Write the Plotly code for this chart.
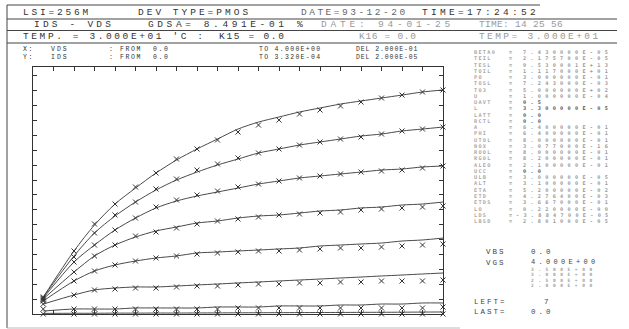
import plotly.graph_objects as go
import numpy as np

W, H = 629, 329

# ---------------- data (IDS in microamps, VDS in volts) ----------------
vds = [0.1, 0.4, 0.6, 0.8, 1.0, 1.2, 1.4, 1.6, 1.8, 2.0,
       2.2, 2.4, 2.6, 2.8, 3.0, 3.2, 3.4, 3.6, 3.8, 4.0]

# simulated curves (lines)
ids_sim_1 = [22.8, 84.7, 119.6, 147.8, 169.3, 189.5, 207.0, 221.8, 235.2, 248.6,
             258.0, 264.8, 271.5, 276.9, 282.2, 286.3, 290.3, 294.3, 298.4, 301.1]
ids_sim_2 = [22.8, 78.0, 108.9, 131.7, 150.5, 166.7, 180.1, 190.8, 200.3, 208.3,
             216.4, 221.8, 227.1, 231.2, 235.2, 239.2, 241.9, 246.0, 248.6, 251.3]
ids_sim_3 = [21.5, 69.9, 92.7, 112.9, 129.0, 142.5, 151.9, 158.6, 164.0, 169.3,
             174.7, 178.8, 182.8, 185.5, 188.2, 190.8, 193.5, 194.9, 197.6, 198.9]
ids_sim_4 = [20.2, 56.4, 78.0, 92.7, 103.5, 111.6, 116.9, 122.3, 125.0, 129.0,
             131.7, 133.1, 135.7, 138.4, 139.8, 142.5, 143.8, 146.5, 147.8, 150.5]
ids_sim_5 = [17.5, 44.4, 57.8, 65.9, 71.2, 75.3, 78.0, 82.0, 83.3, 84.7,
             86.0, 87.4, 88.7, 91.4, 92.7, 94.1, 95.4, 98.1, 99.5, 102.1]
ids_sim_6 = [13.4, 25.5, 32.3, 34.9, 36.3, 36.3, 37.6, 39.0, 40.3, 41.7,
             43.0, 44.4, 45.7, 47.0, 48.4, 49.7, 51.1, 52.4, 53.8, 55.1]
ids_sim_7 = [4.0, 6.7, 6.7, 6.7, 8.1, 8.1, 8.1, 8.1, 9.4, 9.4,
             9.4, 10.8, 10.8, 10.8, 12.1, 12.1, 13.4, 13.4, 14.8, 14.8]
ids_sim_8 = [0.8, 1.0, 1.0, 1.2, 1.2, 1.3, 1.3, 1.4, 1.5, 1.6,
             1.7, 1.8, 1.9, 2.0, 2.1, 2.2, 2.3, 2.4, 2.6, 2.7]

# measured points (x markers)
ids_meas_1 = [22.8, 84.7, 121.0, 147.8, 170.7, 189.5, 208.3, 221.8, 233.9, 244.6,
              254.0, 260.7, 268.8, 274.2, 279.6, 284.9, 290.3, 294.3, 298.4, 301.1]
ids_meas_2 = [21.5, 76.6, 108.9, 133.1, 150.5, 168.0, 181.4, 193.5, 201.6, 209.7,
              216.4, 221.8, 227.1, 231.2, 235.2, 237.9, 241.9, 246.0, 248.6, 251.3]
ids_meas_3 = [20.2, 69.9, 92.7, 112.9, 129.0, 143.8, 153.2, 159.9, 165.3, 170.7,
              174.7, 178.8, 182.8, 185.5, 188.2, 190.8, 192.2, 193.5, 196.2, 198.9]
ids_meas_4 = [18.8, 56.4, 78.0, 92.7, 104.8, 110.2, 115.6, 121.0, 125.0, 127.7,
              130.4, 133.1, 134.4, 135.7, 137.1, 139.8, 141.1, 142.5, 143.8, 145.2]
ids_meas_5 = [17.5, 44.4, 57.8, 65.9, 71.2, 75.3, 78.0, 80.6, 82.0, 83.3,
              84.7, 84.7, 86.0, 87.4, 88.7, 88.7, 90.0, 91.4, 92.7, 94.1]
ids_meas_6 = [13.4, 25.5, 32.3, 33.6, 34.9, 34.9, 36.3, 37.6, 37.6, 39.0,
              40.3, 40.3, 41.7, 41.7, 43.0, 43.0, 44.4, 44.4, 44.4, 45.7]
ids_meas_7 = [6.7, 6.7, 6.7, 6.7, 6.7, 6.7, 6.7, 6.7, 6.7, 8.1,
              8.1, 8.1, 8.1, 8.1, 8.1, 8.1, 8.1, 8.1, 8.1, 9.4]
ids_meas_8 = [0.0, 0.0, 0.0, 0.0, 0.0, 0.0, 0.0, 0.0, 0.0, 0.0,
              0.0, 0.0, 0.0, 0.0, 0.0, 0.0, 0.0, 0.0, 0.0, 0.0]

ids_sim = [ids_sim_1, ids_sim_2, ids_sim_3, ids_sim_4,
           ids_sim_5, ids_sim_6, ids_sim_7, ids_sim_8]
ids_meas = [ids_meas_1, ids_meas_2, ids_meas_3, ids_meas_4,
            ids_meas_5, ids_meas_6, ids_meas_7, ids_meas_8]

x_from, x_to, x_del = 0.0, 4.0, 0.2
y_from, y_to, y_del = 0.0, 3.320e-4, 2.0e-5

# parameter panel text
param_names = ["BETA0", "TEIL", "TESL", "TOIL", "PO", "TOSL", "TO3", "U", "UAVT", "L",
               "LATT", "RCTL", "A", "PHI", "UTOL", "NOX", "ROOL", "RGOL", "ALEO", "UCC",
               "ULB", "ALT", "ETA", "ETD", "ETDS", "LO", "LDS", "LBSD"]
param_values = ["7.430000E-05", "2.175700E-05", "9.530001E+13", "1.117000E+01",
                "3.000000E-01", "7.243000E-03", "5.000000E+02", "1.000000E-04",
                "0.5", "3.300000E-05", "0.0", "0.0", "6.400000E-01", "6.400000E-01",
                "8.000000E-01", "3.077000E-16", "8.000000E-01", "8.200000E-01",
                "2.100000E-01", "0.0", "3.000000E-05", "3.100000E-01", "5.200000E-02",
                "4.276400E-03", "3.667000E-01", "0.220000E-00", "-3.884700E-05",
                "2.801000E-05"]
vgs_values = ["4.000E+00", "3.500E+00", "3.000E+00", "2.500E+00", "2.000E+00"]

# ---------------- figure ----------------
def px(x):
    return x / W

def py(y):
    return 1 - y / H

fig = go.Figure()
x = np.array(vds)
for s in ids_sim:
    fig.add_trace(go.Scatter(x=x, y=np.array(s) * 1e-6, mode="lines",
                             line=dict(color="#4a4a4a", width=1, shape="spline", smoothing=0.8),
                             hoverinfo="skip", showlegend=False))
for m in ids_meas:
    fig.add_trace(go.Scatter(x=x, y=np.array(m) * 1e-6, mode="markers",
                             marker=dict(symbol="x-thin", size=5, line=dict(width=1, color="#333")),
                             cliponaxis=False, hoverinfo="skip", showlegend=False))

axis_common = dict(showgrid=False, zeroline=False, showticklabels=False,
                   ticks="inside", ticklen=4, tickcolor="#333", tickwidth=1,
                   showline=True, linecolor="#333", linewidth=1, mirror="ticks")
fig.update_xaxes(range=[x_from, x_to], dtick=x_del, tick0=0,
                 domain=[px(33), px(443)], **axis_common)
fig.update_yaxes(range=[y_from, y_to], dtick=y_del, tick0=0,
                 domain=[py(314), py(67)], **axis_common)

FONT = "Liberation Mono, DejaVu Sans Mono, monospace"
FONT2 = "DejaVu Sans Mono, Liberation Mono, monospace"

def txt(x, y, s, size=9.5, color="#333", ls=2.5, fam=FONT, bold=False):
    body = f"<b>{s}</b>" if bold else s
    fig.add_annotation(x=px(x), y=py(y), xref="paper", yref="paper",
                       xanchor="left", yanchor="middle", showarrow=False, borderpad=0,
                       text=f'<span style="letter-spacing:{ls}px">{body}</span>',
                       font=dict(family=fam, size=size, color=color))

# header rows
txt(22, 12.5, "LSI=256M", ls=2.8)
txt(137, 12.5, "DEV TYPE=PMOS", ls=3.0)
txt(300, 12.5, "DATE=93-12-20", color="#666", ls=2.5)
txt(421, 12.5, "TIME=17:24:52", ls=3.3)
txt(33, 24.5, "IDS - VDS", ls=3.2)
txt(147, 24.5, "GDSA= 8.491E-01", ls=3.6)
txt(296, 24.5, "%", ls=2)
txt(320, 24.5, "DATE: 94-01-25", color="#999", ls=3.8)
txt(478, 24.5, "TIME: 14 25 56", color="#999", ls=0.3)
txt(22, 36.5, "TEMP. = 3.000E+01 'C :", ls=2.6)
txt(218, 36.5, "K15 = 0.0", ls=1.7)
txt(358, 36.5, "K16 = 0.0", color="#999", ls=0.7)
txt(478, 36.5, "TEMP= 3.000E+01", color="#999", ls=2.4)

txt(22, 49.5, "X:", size=6.5, ls=1.5)
txt(50, 49.5, "VDS", size=6.5, ls=2.0)
txt(108, 49.5, ": FROM  0.0", size=6.5, ls=1.6)
txt(258, 49.5, "TO 4.000E+00", size=6.5, ls=1.3)
txt(355, 49.5, "DEL 2.000E-01", size=6.5, ls=0.9)
txt(22, 57.5, "Y:", size=6.5, ls=1.5)
txt(50, 57.5, "IDS", size=6.5, ls=2.0)
txt(108, 57.5, ": FROM  0.0", size=6.5, ls=1.6)
txt(258, 57.5, "TO 3.320E-04", size=6.5, ls=1.3)
txt(355, 57.5, "DEL 2.000E-05", size=6.5, ls=0.9)

# parameter panel
for i, (n, v) in enumerate(zip(param_names, param_values)):
    yy = 52 + i * 6.26
    txt(473, yy, n, size=5.2, color="#a8a8a8", ls=1.3, fam=FONT2, bold=True)
    txt(508, yy, "=", size=5.2, color="#777", ls=0, fam=FONT2, bold=True)
    vcol = "#555" if len(v) <= 3 or v == "3.300000E-05" else "#999"
    txt(522 if not v.startswith("-") else 515, yy, v, size=5.2, color=vcol,
        ls=4.3, fam=FONT2, bold=True)

txt(485, 252, "VBS", size=7.5, color="#444", ls=2.0)
txt(530, 252, "0.0", size=7.5, color="#444", ls=3.0)
txt(485, 263, "VGS", size=7.5, color="#444", ls=2.0)
txt(530, 262, vgs_values[0], size=7, color="#444", ls=3.3)
for k, v in enumerate(vgs_values[1:]):
    txt(530, 269 + k * 5.5, v, size=4.5, color="#a0a0a0", ls=4.6, fam=FONT2, bold=True)
txt(473, 302, "LEFT=", size=7.5, color="#444", ls=2.0)
txt(543, 302, "7", size=7.5, color="#444", ls=1.5)
txt(473, 312, "LAST=", size=7.5, color="#444", ls=2.0)
txt(530, 312, "0.0", size=7.5, color="#444", ls=3.0)

# frame lines of the printout
def hline(y, x0, x1, color="#444", w=1):
    fig.add_shape(type="line", xref="paper", yref="paper",
                  x0=px(x0), x1=px(x1), y0=py(y), y1=py(y), line=dict(color=color, width=w))

def vline(x, y0, y1, color="#444", w=1):
    fig.add_shape(type="line", xref="paper", yref="paper",
                  x0=px(x), x1=px(x), y0=py(y0), y1=py(y1), line=dict(color=color, width=w))

vline(7, 5, 328)
hline(5, 7, 540)
hline(19, 7, 617)
hline(30.5, 7, 617)
hline(43, 7, 617)
hline(328, 7, 460, color="#bbb")

fig.update_layout(width=W, height=H, margin=dict(l=0, r=0, t=0, b=0),
                  paper_bgcolor="white", plot_bgcolor="white", showlegend=False)

fig.write_html("out.html")
